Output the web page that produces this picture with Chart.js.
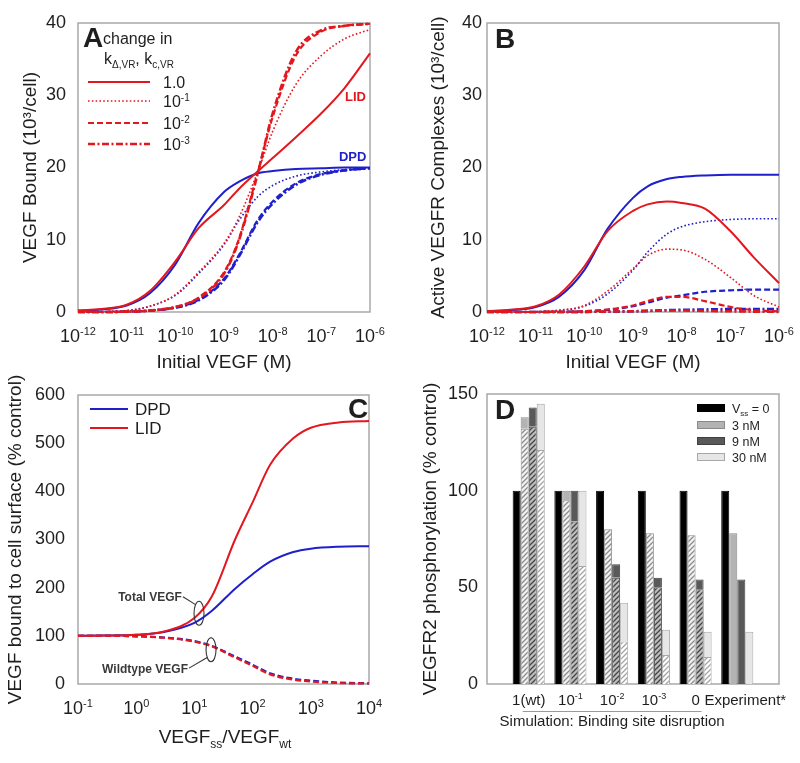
<!DOCTYPE html>
<html>
<head>
<meta charset="utf-8">
<title>VEGF binding panels</title>
<script src="https://cdn.jsdelivr.net/npm/chart.js@4.4.1/dist/chart.umd.min.js"></script>
<style>
  html, body { margin: 0; padding: 0; background: #fff; }
  #fig { position: relative; width: 800px; height: 763px; overflow: hidden; background: #fff; }
  #fig canvas { position: absolute; }
</style>
</head>
<body>
<div id="fig">
  <canvas id="panelA" width="400" height="380" style="left:0;top:0;width:400px;height:380px"></canvas>
  <canvas id="panelB" width="400" height="380" style="left:400px;top:0;width:400px;height:380px"></canvas>
  <canvas id="panelC" width="400" height="393" style="left:0;top:370px;width:400px;height:393px"></canvas>
  <canvas id="panelD" width="400" height="393" style="left:400px;top:370px;width:400px;height:393px"></canvas>
</div>
<script>
// ---------- data ----------

// Panels A and B: initial VEGF concentration (M)
const initialVEGF = [1e-12, 3e-12, 1e-11, 3e-11, 1e-10, 3e-10, 1e-9, 2e-9, 5e-9, 1e-8, 3e-8, 1e-7, 3e-7, 1e-6];
const decadesAB = [1e-12, 1e-11, 1e-10, 1e-9, 1e-8, 1e-7, 1e-6];

// Panel A: VEGF bound (10^3/cell), change in k factor 1.0 / 1e-1 / 1e-2 / 1e-3
const boundLID_1   = [0.2, 0.4, 1.0, 2.9, 7.0, 11.6, 14.8, 17.0, 19.5, 21.3, 24.2, 27.5, 31.0, 35.8];
const boundLID_1e1 = [0.0, 0.05, 0.2, 0.8, 2.4, 5.5, 9.5, 13.0, 19.5, 25.0, 31.5, 35.5, 37.8, 39.1];
const boundLID_1e2 = [0.0, 0.0, 0.05, 0.2, 0.7, 2.0, 5.5, 10.0, 19.5, 27.0, 35.5, 38.8, 39.6, 39.9];
const boundLID_1e3 = [0.0, 0.0, 0.05, 0.2, 0.7, 1.9, 5.3, 9.8, 19.3, 27.5, 36.0, 39.0, 39.6, 39.9];
const boundDPD_1   = [0.2, 0.35, 0.9, 2.6, 6.6, 12.3, 16.6, 18.0, 19.2, 19.5, 19.8, 19.9, 20.0, 20.0];
const boundDPD_1e1 = [0.0, 0.05, 0.2, 0.8, 2.3, 5.3, 9.3, 12.6, 16.0, 17.5, 18.8, 19.4, 19.7, 19.9];
const boundDPD_1e2 = [0.0, 0.0, 0.05, 0.2, 0.6, 1.7, 4.6, 7.8, 12.8, 15.3, 17.8, 19.1, 19.6, 19.9];
const boundDPD_1e3 = [0.0, 0.0, 0.05, 0.2, 0.6, 1.6, 4.4, 7.6, 12.5, 15.0, 17.6, 19.0, 19.6, 19.9];

// Panel B: active VEGFR complexes (10^3/cell)
const activeDPD_1   = [0.1, 0.25, 0.7, 2.1, 5.8, 11.5, 15.8, 17.4, 18.4, 18.7, 18.9, 19.0, 19.0, 19.0];
const activeDPD_1e1 = [0, 0, 0.05, 0.2, 0.8, 2.5, 5.8, 8.3, 10.8, 11.8, 12.5, 12.8, 12.9, 12.9];
const activeDPD_1e2 = [0, 0, 0, 0.02, 0.1, 0.3, 0.8, 1.3, 2.0, 2.3, 2.8, 3.0, 3.1, 3.1];
const activeDPD_1e3 = [0, 0, 0, 0, 0.02, 0.05, 0.1, 0.15, 0.25, 0.3, 0.35, 0.4, 0.4, 0.4];
const activeLID_1   = [0.1, 0.3, 0.8, 2.4, 6.3, 11.2, 14.0, 14.9, 15.3, 15.1, 14.3, 11.2, 7.6, 4.0];
const activeLID_1e1 = [0, 0, 0.05, 0.25, 0.9, 2.9, 6.0, 7.8, 8.7, 8.6, 7.3, 4.8, 2.3, 0.7];
const activeLID_1e2 = [0, 0, 0, 0.02, 0.1, 0.35, 0.9, 1.5, 2.1, 2.1, 1.5, 0.7, 0.25, 0.1];
const activeLID_1e3 = [0, 0, 0, 0, 0.02, 0.05, 0.1, 0.15, 0.2, 0.2, 0.15, 0.1, 0.05, 0.02];

// Panel C: VEGF bound to cell surface (% control) vs VEGFss/VEGFwt
const ratioSsWt = [0.1, 0.3, 1, 3, 10, 20, 50, 100, 200, 500, 1000, 3000, 10000];
const decadesC = [0.1, 1, 10, 100, 1000, 10000];
const totalDPD = [100, 100.5, 102, 108, 127, 152, 198, 228, 254, 274, 281, 285, 286];
const totalLID = [100, 100.5, 102, 109, 137, 182, 300, 377, 455, 510, 532, 543, 546];
const wildDPD  = [100, 100, 99, 96.5, 89, 79, 57, 40, 22, 11, 7, 3, 1.5];
const wildLID  = [100, 100, 99, 96, 88, 78, 55, 38, 20, 9, 5, 2, 1];

// Panel D: VEGFR2 phosphorylation (% control)
const disruption   = ['1(wt)', '10^-1', '10^-2', '10^-3', '0', 'Experiment*'];
const phosVss0     = [100, 100, 100, 100, 100, 100];
const phos3nM      = [138, 100, 80, 78, 77, 78];
const phos9nM      = [143, 100, 62, 55, 54, 54];
const phos30nM     = [145, 100, 42, 28, 27, 27];
const phos3nMHatch  = [132, 95, 80, 78, 77, null];
const phos9nMHatch  = [133, 84, 55, 50, 49, null];
const phos30nMHatch = [121, 61, 22, 15, 14, null];

// ---------- look ----------
const FONT = "'Liberation Sans', Arial, Helvetica, sans-serif";
const INK = '#1e1e1e';
const RED = '#e3171e';
const BLUE = '#1f1fcc';
const FRAME = '#a9a9a9';

const LINE = {
  solid:   { width: 2,   dash: [] },
  dotted:  { width: 1.6, dash: [1.6, 2.2] },
  dashed:  { width: 2.2, dash: [6, 3] },
  dashdot: { width: 2.6, dash: [7, 2.5, 2, 2.5] }
};

Chart.defaults.font.family = FONT;
Chart.defaults.color = INK;

// text with sub/superscript pieces, y is the baseline
function rich(ctx, parts, x, y, size, opts = {}) {
  const weight = opts.bold ? 'bold ' : '';
  const small = Math.round(size * 0.62);
  ctx.save();
  ctx.fillStyle = opts.color || INK;
  ctx.textBaseline = 'alphabetic';
  ctx.textAlign = 'left';
  const font = k => `${weight}${k ? small : size}px ${FONT}`;
  let total = 0;
  for (const [t, k] of parts) { ctx.font = font(k); total += ctx.measureText(t).width; }
  let cx = opts.align === 'center' ? x - total / 2 : opts.align === 'right' ? x - total : x;
  for (const [t, k] of parts) {
    ctx.font = font(k);
    const dy = k === 'sup' ? -size * 0.4 : k === 'sub' ? size * 0.25 : 0;
    ctx.fillText(t, cx, y + dy);
    cx += ctx.measureText(t).width;
  }
  ctx.restore();
  return total;
}

// "10^-3" -> [['10'], ['-3', 'sup']]
function powParts(s) {
  const [b, e] = s.split('^');
  return e === undefined ? [[b]] : [[b], [e, 'sup']];
}
const decadeText = v => '10^' + Math.round(Math.log10(v));

// grey box round the plot area
const framePlugin = {
  id: 'frame',
  beforeDatasetsDraw(chart) {
    const { ctx, chartArea: a } = chart;
    ctx.save();
    ctx.strokeStyle = FRAME;
    ctx.lineWidth = 1.5;
    ctx.strokeRect(a.left, a.top, a.right - a.left, a.bottom - a.top);
    ctx.restore();
  }
};

// power-of-ten tick labels under a log x axis
function decadeLabels(decades, baseline) {
  return {
    id: 'decadeLabels',
    afterDraw(chart) {
      const x = chart.scales.x;
      decades.forEach(v => rich(chart.ctx, powParts(decadeText(v)), x.getPixelForValue(v), baseline, 18, { align: 'center' }));
    }
  };
}

function curve(xs, ys, color, style, order) {
  return {
    data: xs.map((x, i) => ({ x, y: ys[i] })),
    borderColor: color,
    borderWidth: LINE[style].width,
    borderDash: LINE[style].dash,
    pointRadius: 0,
    cubicInterpolationMode: 'monotone',
    fill: false,
    clip: false,
    order
  };
}

function logX(min, max, height, title) {
  return {
    type: 'logarithmic', min, max,
    afterFit: s => { s.height = height; },
    grid: { display: false, drawTicks: false },
    border: { display: false },
    ticks: { display: false },
    title: title ? { display: true, text: title, color: INK, font: { size: 19 }, padding: { top: 0, bottom: 6 } } : { display: false }
  };
}

function linY(max, step, width, tickPad, title, titlePad, stacked = false) {
  return {
    min: 0, max,
    stacked,
    afterFit: s => { s.width = width; },
    grid: { display: false, drawTicks: false },
    border: { display: false },
    ticks: { stepSize: step, padding: tickPad, font: { size: 18 }, color: INK },
    title: { display: true, text: title, color: INK, font: { size: 19 }, padding: { top: titlePad, bottom: 0 } }
  };
}

const baseOptions = (padding) => ({
  responsive: false,
  animation: false,
  devicePixelRatio: 1,
  layout: { padding },
  plugins: { legend: { display: false }, tooltip: { enabled: false } }
});

// ---------- panel A ----------
const legendARows = [
  { style: 'solid',   label: '1.0' },
  { style: 'dotted',  label: '10^-1' },
  { style: 'dashed',  label: '10^-2' },
  { style: 'dashdot', label: '10^-3' }
];
const legendARowY = [82, 101, 123, 144];

const decoA = {
  id: 'decoA',
  afterDraw(chart) {
    const { ctx, scales: { x, y } } = chart;
    rich(ctx, [['A']], 83, 47, 28, { bold: true });
    rich(ctx, [['change in']], 103, 44, 16);
    rich(ctx, [['k'], ['Δ,VR', 'sub'], [', k'], ['c,VR', 'sub']], 104, 64, 16);
    legendARows.forEach((row, i) => {
      const yy = legendARowY[i];
      ctx.save();
      ctx.strokeStyle = RED;
      ctx.lineWidth = LINE[row.style].width;
      ctx.setLineDash(LINE[row.style].dash);
      ctx.beginPath();
      ctx.moveTo(88, yy);
      ctx.lineTo(150, yy);
      ctx.stroke();
      ctx.restore();
      rich(ctx, powParts(row.label), 163, yy + 6, 16);
    });
    rich(ctx, [['LID']], x.getPixelForValue(3.06e-7), y.getPixelForValue(29.2), 13, { bold: true, color: RED });
    rich(ctx, [['DPD']], x.getPixelForValue(2.3e-7), y.getPixelForValue(20.9), 13, { bold: true, color: BLUE });
  }
};

new Chart(document.getElementById('panelA'), {
  type: 'line',
  data: {
    datasets: [
      curve(initialVEGF, boundLID_1, RED, 'solid', 0),
      curve(initialVEGF, boundLID_1e1, RED, 'dotted', 1),
      curve(initialVEGF, boundLID_1e2, RED, 'dashed', 2),
      curve(initialVEGF, boundLID_1e3, RED, 'dashdot', 3),
      curve(initialVEGF, boundDPD_1, BLUE, 'solid', 4),
      curve(initialVEGF, boundDPD_1e1, BLUE, 'dotted', 5),
      curve(initialVEGF, boundDPD_1e2, BLUE, 'dashed', 6),
      curve(initialVEGF, boundDPD_1e3, BLUE, 'dashdot', 7)
    ]
  },
  options: Object.assign(baseOptions({ left: 0, right: 30, top: 23, bottom: 0 }), {
    scales: {
      x: logX(1e-12, 1e-6, 68, 'Initial VEGF (M)'),
      y: linY(40, 10, 78, 12, 'VEGF Bound (10³/cell)', 19.6)
    }
  }),
  plugins: [framePlugin, decoA, decadeLabels(decadesAB, 342)]
});

// ---------- panel B ----------
const decoB = {
  id: 'decoB',
  afterDraw(chart) {
    rich(chart.ctx, [['B']], 95, 48, 28, { bold: true });
  }
};

new Chart(document.getElementById('panelB'), {
  type: 'line',
  data: {
    datasets: [
      curve(initialVEGF, activeLID_1, RED, 'solid', 0),
      curve(initialVEGF, activeLID_1e1, RED, 'dotted', 1),
      curve(initialVEGF, activeLID_1e2, RED, 'dashed', 2),
      curve(initialVEGF, activeLID_1e3, RED, 'dashdot', 3),
      curve(initialVEGF, activeDPD_1, BLUE, 'solid', 4),
      curve(initialVEGF, activeDPD_1e1, BLUE, 'dotted', 5),
      curve(initialVEGF, activeDPD_1e2, BLUE, 'dashed', 6),
      curve(initialVEGF, activeDPD_1e3, BLUE, 'dashdot', 7)
    ]
  },
  options: Object.assign(baseOptions({ left: 0, right: 21, top: 23, bottom: 0 }), {
    scales: {
      x: logX(1e-12, 1e-6, 68, 'Initial VEGF (M)'),
      y: linY(40, 10, 87, 5, 'Active VEGFR Complexes (10³/cell)', 27.6)
    }
  }),
  plugins: [framePlugin, decoB, decadeLabels(decadesAB, 342)]
});

// ---------- panel C ----------
const annotC = [
  { text: 'Total VEGF', x: 1.73, y: 181, ex: 12, ey: 147 },
  { text: 'Wildtype VEGF', x: 1.42, y: 33, ex: 19.3, ey: 71 }
];

const decoC = {
  id: 'decoC',
  afterDraw(chart) {
    const { ctx, scales: { x, y } } = chart;
    rich(ctx, [['C']], 348, 48, 28, { bold: true });
    [[BLUE, 'DPD', 39], [RED, 'LID', 58]].forEach(([c, t, yy]) => {
      ctx.save();
      ctx.strokeStyle = c;
      ctx.lineWidth = 2;
      ctx.beginPath();
      ctx.moveTo(90, yy);
      ctx.lineTo(128, yy);
      ctx.stroke();
      ctx.restore();
      rich(ctx, [[t]], 135, yy + 6, 17);
    });
    annotC.forEach(a => {
      const tx = x.getPixelForValue(a.x), ty = y.getPixelForValue(a.y);
      const cx = x.getPixelForValue(a.ex), cy = y.getPixelForValue(a.ey);
      const w = rich(ctx, [[a.text]], tx, ty + 4.5, 12, { bold: true, color: '#3a3a3a', align: 'center' });
      const sx = tx + w / 2 + 1, sy = ty;
      const ang = Math.atan2(sy - cy, sx - cx);
      ctx.save();
      ctx.strokeStyle = '#333';
      ctx.lineWidth = 1.1;
      ctx.beginPath();
      ctx.moveTo(sx, sy);
      ctx.lineTo(cx + 5 * Math.cos(ang), cy + 12 * Math.sin(ang));
      ctx.stroke();
      ctx.beginPath();
      ctx.ellipse(cx, cy, 5, 12, 0, 0, Math.PI * 2);
      ctx.stroke();
      ctx.restore();
    });
    rich(ctx, [['VEGF'], ['ss', 'sub'], ['/VEGF'], ['wt', 'sub']], 225, 373, 19, { align: 'center' });
  }
};

new Chart(document.getElementById('panelC'), {
  type: 'line',
  data: {
    datasets: [
      curve(ratioSsWt, wildLID, RED, 'dashed', 0),
      curve(ratioSsWt, wildDPD, BLUE, 'dashed', 1),
      curve(ratioSsWt, totalLID, RED, 'solid', 2),
      curve(ratioSsWt, totalDPD, BLUE, 'solid', 3)
    ]
  },
  options: Object.assign(baseOptions({ left: 0, right: 31, top: 25, bottom: 0 }), {
    scales: {
      x: logX(0.1, 10000, 79, null),
      y: linY(600, 100, 78, 13, 'VEGF bound to cell surface (% control)', 4.6)
    }
  }),
  plugins: [framePlugin, decoC, decadeLabels(decadesC, 344)]
});

// ---------- panel D ----------
function hatch(bg, line) {
  const c = document.createElement('canvas');
  c.width = c.height = 5;
  const g = c.getContext('2d');
  g.fillStyle = bg;
  g.fillRect(0, 0, 5, 5);
  g.strokeStyle = line;
  g.lineWidth = 1.3;
  g.beginPath();
  g.moveTo(0, 5); g.lineTo(5, 0);
  g.moveTo(-1, 1); g.lineTo(1, -1);
  g.moveTo(4, 6); g.lineTo(6, 4);
  g.stroke();
  return g.createPattern(c, 'repeat');
}

// one empty slot either side of the six groups
const pad = a => [null, ...a, null];
// solid part that shows above a hatched bar of the same stack
const capAbove = (solid, hatched) => solid.map((v, i) => {
  const c = v - (hatched[i] == null ? 0 : hatched[i]);
  return c > 0 ? c : null;
});

const barFill = { vss0: '#000000', nM3: '#b3b3b3', nM9: '#595959', nM30: '#e6e6e6' };
const barEdge = { vss0: '#000000', nM3: '#8a8a8a', nM9: '#404040', nM30: '#a8a8a8' };

const legendDRows = [
  { key: 'vss0', label: [['V'], ['ss', 'sub'], [' = 0']] },
  { key: 'nM3', label: [['3 nM']] },
  { key: 'nM9', label: [['9 nM']] },
  { key: 'nM30', label: [['30 nM']] }
];
const legendDRowY = [38, 55, 71, 87];

const decoD = {
  id: 'decoD',
  afterDraw(chart) {
    const { ctx, scales: { x } } = chart;
    rich(ctx, [['D']], 95, 49, 28, { bold: true });
    legendDRows.forEach((row, i) => {
      const yy = legendDRowY[i];
      ctx.save();
      ctx.fillStyle = barFill[row.key];
      ctx.strokeStyle = barEdge[row.key];
      ctx.lineWidth = 1;
      ctx.fillRect(297, yy - 3.5, 28, 7);
      ctx.strokeRect(297.5, yy - 3.5, 27, 7);
      ctx.restore();
      rich(ctx, row.label, 332, yy + 4.5, 12.5);
    });
    disruption.forEach((lab, i) => {
      rich(ctx, powParts(lab), x.getPixelForValue(i + 1) + (i === disruption.length - 1 ? 8 : 0), 335, 15, { align: 'center' });
    });
    const x0 = x.getPixelForValue(1) - 6, x1 = x.getPixelForValue(5) + 6;
    ctx.save();
    ctx.strokeStyle = '#9a9a9a';
    ctx.lineWidth = 1;
    ctx.beginPath();
    ctx.moveTo(x0, 341.5);
    ctx.lineTo(x1, 341.5);
    ctx.stroke();
    ctx.restore();
    rich(ctx, [['Simulation: Binding site disruption']], (x0 + x1) / 2, 356, 15, { align: 'center' });
  }
};

const hatchStyle = (bg, line, edge) => ({ backgroundColor: hatch(bg, line), borderColor: edge, borderWidth: 1 });
const solidStyle = key => ({ backgroundColor: barFill[key], borderColor: barEdge[key], borderWidth: 1 });

new Chart(document.getElementById('panelD'), {
  type: 'bar',
  data: {
    labels: pad(disruption),
    datasets: [
      Object.assign({ stack: 'v0', data: pad(phosVss0) }, solidStyle('vss0')),
      Object.assign({ stack: 'v3', data: pad(phos3nMHatch) }, hatchStyle('#f2f2f2', '#8c8c8c', '#8a8a8a')),
      Object.assign({ stack: 'v3', data: pad(capAbove(phos3nM, phos3nMHatch)) }, solidStyle('nM3')),
      Object.assign({ stack: 'v9', data: pad(phos9nMHatch) }, hatchStyle('#bdbdbd', '#454545', '#404040')),
      Object.assign({ stack: 'v9', data: pad(capAbove(phos9nM, phos9nMHatch)) }, solidStyle('nM9')),
      Object.assign({ stack: 'v30', data: pad(phos30nMHatch) }, hatchStyle('#ffffff', '#a3a3a3', '#a8a8a8')),
      Object.assign({ stack: 'v30', data: pad(capAbove(phos30nM, phos30nMHatch)) }, solidStyle('nM30'))
    ]
  },
  options: Object.assign(baseOptions({ left: 0, right: 21, top: 24, bottom: 0 }), {
    datasets: { bar: { categoryPercentage: 0.77, barPercentage: 1.0 } },
    scales: {
      x: {
        type: 'category',
        offset: false,
        stacked: true,
        afterFit: s => { s.height = 79; },
        grid: { display: false, drawTicks: false, offset: false },
        border: { display: false },
        ticks: { display: false }
      },
      y: linY(150, 50, 87, 9, 'VEGFR2 phosphorylation (% control)', 19.6, true)
    }
  }),
  plugins: [framePlugin, decoD]
});
</script>
</body>
</html>
